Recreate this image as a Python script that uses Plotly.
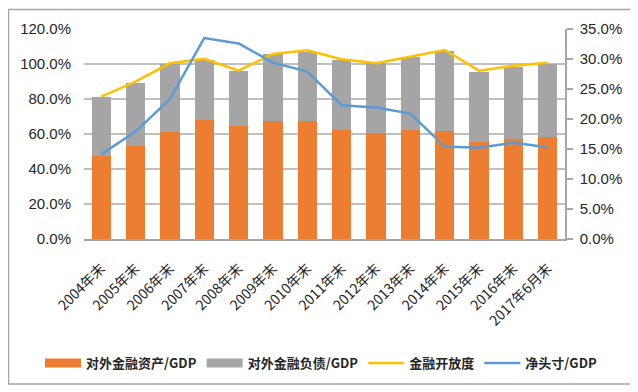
import plotly.graph_objects as go

categories = ["2004年末", "2005年末", "2006年末", "2007年末", "2008年末", "2009年末", "2010年末",
              "2011年末", "2012年末", "2013年末", "2014年末", "2015年末", "2016年末", "2017年6月末"]
assets_gdp = [47.4, 53.3, 61.3, 68.0, 64.6, 67.4, 67.4, 62.3, 60.7, 62.3, 61.5, 55.6, 57.0, 58.1]
liabilities_gdp = [33.9, 35.7, 38.7, 34.3, 31.2, 38.1, 39.3, 40.0, 39.7, 41.5, 46.1, 40.0, 41.5, 41.9]
openness = [81.3, 89.9, 100.4, 103.0, 96.2, 105.7, 107.8, 102.7, 100.4, 104.2, 108.0, 96.2, 99.0, 100.7]
net_position_gdp = [14.1, 17.9, 23.3, 33.5, 32.6, 29.4, 27.9, 22.3, 21.9, 20.9, 15.4, 15.2, 16.05, 15.3]

left_ticks = [0, 20, 40, 60, 80, 100, 120]
right_ticks = [0, 5, 10, 15, 20, 25, 30, 35]

ORANGE = "#ED7D31"
GRAY = "#A5A5A5"
YELLOW = "#FFC000"
BLUE = "#5B9BD5"
TXT = "#262626"
CJK = "Noto Sans CJK SC, Liberation Sans, sans-serif"

fig = go.Figure()
fig.add_trace(go.Bar(x=categories, y=assets_gdp, marker_color=ORANGE, marker_line_width=0,
                     name="对外金融资产/GDP", showlegend=False, legendgroup="a"))
fig.add_trace(go.Bar(x=categories, y=liabilities_gdp, marker_color=GRAY, marker_line_width=0,
                     name="对外金融负债/GDP", showlegend=False, legendgroup="l"))
fig.add_trace(go.Scatter(x=categories, y=openness, mode="lines", line=dict(color=YELLOW, width=2.5),
                         name="金融开放度", legendrank=3))
fig.add_trace(go.Scatter(x=categories, y=net_position_gdp, mode="lines", line=dict(color=BLUE, width=2.5),
                         name="净头寸/GDP", yaxis="y2", legendrank=4))
# legend keys shaped like Excel's wide rectangles
fig.add_trace(go.Scatter(x=[None], y=[None], mode="lines", line=dict(color=ORANGE, width=9),
                         name="对外金融资产/GDP", legendgroup="a", legendrank=1))
fig.add_trace(go.Scatter(x=[None], y=[None], mode="lines", line=dict(color=GRAY, width=9),
                         name="对外金融负债/GDP", legendgroup="l", legendrank=2))

# page has an 8px body margin; figure is shifted so page pixels match the reference
OFF = 8
W, H = 638 - OFF, 392 - OFF
ml, mt = 84 - OFF, 29 - OFF
pw, ph = 481, 210
mr, mb = W - ml - pw, H - mt - ph

def px_x(x):  # page px -> paper
    return (x - OFF - ml) / pw

def px_y(y):
    return (mt + ph - (y - OFF)) / ph

fig.add_shape(type="rect", xref="paper", yref="paper",
              x0=px_x(8.5), x1=px_x(632), y0=px_y(384), y1=px_y(9.5),
              line=dict(color="#A6A6A6", width=1.5), fillcolor="rgba(0,0,0,0)", layer="below")

fig.update_layout(
    width=W, height=H,
    margin=dict(l=ml, r=mr, t=mt, b=mb, autoexpand=False),
    barmode="stack", bargap=0.44,
    plot_bgcolor="white", paper_bgcolor="white",
    font=dict(family="Liberation Sans, Arial, sans-serif", size=15, color=TXT),
    xaxis=dict(tickangle=-45, showgrid=False, showline=True, linecolor="#A6A6A6", linewidth=1.5,
               ticks="", tickfont=dict(family=CJK, size=14, color=TXT), ticklabelstandoff=14,
               range=[-0.5, len(categories) - 0.5], automargin=False),
    yaxis=dict(range=[0, 120], tickvals=left_ticks, ticktext=[f"{v:.1f}%" for v in left_ticks],
               showgrid=True, gridcolor="#BFBFBF", gridwidth=1.5, zeroline=False, showline=False,
               ticks="", ticklabelstandoff=12, automargin=False),
    yaxis2=dict(range=[0, 35], tickvals=right_ticks, ticktext=[f"{v:.1f}%" for v in right_ticks],
                overlaying="y", side="right", showgrid=False, zeroline=False, showline=True,
                linecolor="#A6A6A6", linewidth=1.5, ticks="outside", ticklen=6, tickcolor="#A6A6A6",
                tickwidth=1.5, ticklabelstandoff=4, automargin=False),
    legend=dict(orientation="h", x=px_x(40), xanchor="left", y=px_y(363), yanchor="middle",
                font=dict(family=CJK, size=13, color=TXT, weight="bold"),
                itemwidth=36, traceorder="normal", bgcolor="rgba(0,0,0,0)"),
)

fig.write_html("out.html")
